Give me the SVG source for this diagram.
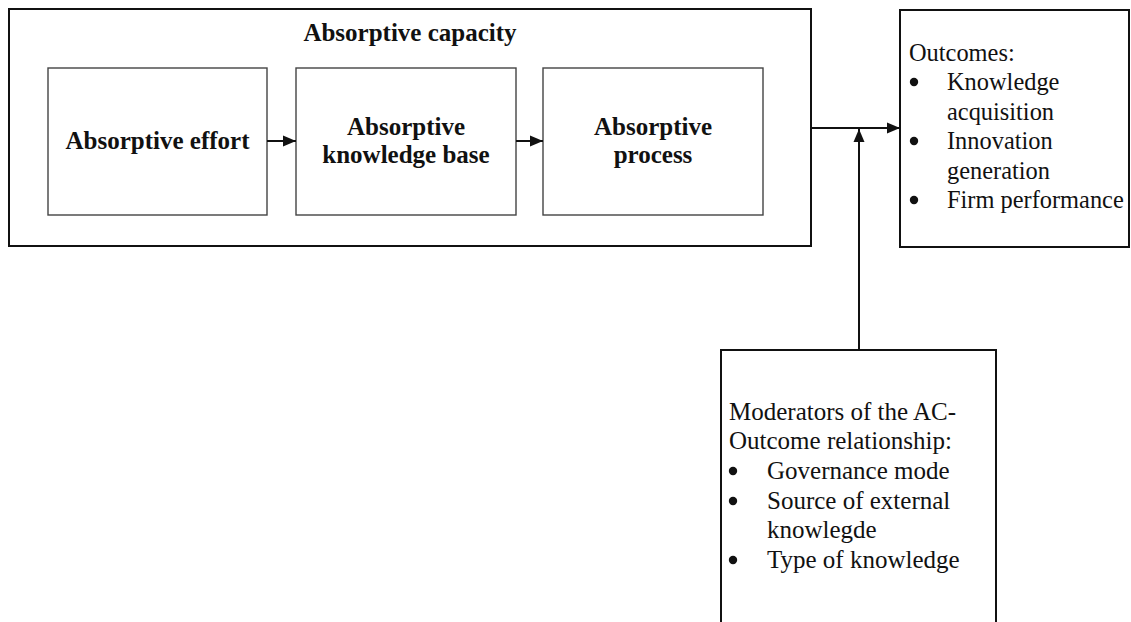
<svg xmlns="http://www.w3.org/2000/svg" width="1131" height="622" viewBox="0 0 1131 622">
<defs>
<style>
.bg{fill:#ffffff}
.outer{fill:none;stroke:#111;stroke-width:2}
.inner{fill:none;stroke:#444;stroke-width:1.4}
.b{font-family:"Liberation Serif","Times New Roman",serif;font-weight:bold;font-size:25px;fill:#111;text-anchor:middle}
.t{font-family:"Liberation Serif","Times New Roman",serif;font-size:25px;fill:#111}
.o{font-size:24.4px}
.dot{fill:#111}
.c{fill:none;stroke:#111;stroke-width:2}
</style>
<marker id="ah" markerUnits="userSpaceOnUse" markerWidth="14" markerHeight="12" refX="13" refY="6" orient="auto">
<path d="M0,0.5 L13,6 L0,11.5 Z" fill="#111"/>
</marker>
</defs>
<rect class="bg" x="0" y="0" width="1131" height="622"/>
<g id="absorptive-capacity">
<rect class="outer" x="9" y="9" width="802" height="237"/>
<text class="b" x="410" y="41">Absorptive capacity</text>
</g>
<g id="absorptive-effort">
<rect class="inner" x="48" y="68" width="219" height="147"/>
<text class="b" x="157.5" y="149">Absorptive effort</text>
</g>
<g id="absorptive-knowledge-base">
<rect class="inner" x="296" y="68" width="220" height="147"/>
<text class="b" x="406" y="135">Absorptive</text>
<text class="b" x="406" y="163">knowledge base</text>
</g>
<g id="absorptive-process">
<rect class="inner" x="543" y="68" width="220" height="147"/>
<text class="b" x="653" y="135">Absorptive</text>
<text class="b" x="653" y="163">process</text>
</g>
<g id="outcomes">
<rect class="outer" x="900" y="10" width="229" height="237"/>
<text class="t o" x="909" y="61">Outcomes:</text>
<circle class="dot" cx="914" cy="82" r="4.2"/>
<text class="t o" x="947" y="90">Knowledge</text>
<text class="t o" x="947" y="120">acquisition</text>
<circle class="dot" cx="914" cy="141" r="4.2"/>
<text class="t o" x="947" y="149">Innovation</text>
<text class="t o" x="947" y="179">generation</text>
<circle class="dot" cx="914" cy="200" r="4.2"/>
<text class="t o" x="947" y="208">Firm performance</text>
</g>
<g id="moderators">
<rect class="outer" x="721" y="350" width="275" height="300"/>
<text class="t" x="729" y="420">Moderators of the AC-</text>
<text class="t" x="729" y="449">Outcome relationship:</text>
<circle class="dot" cx="733" cy="471" r="4.2"/>
<text class="t" x="767" y="479">Governance mode</text>
<circle class="dot" cx="733" cy="501" r="4.2"/>
<text class="t" x="767" y="509">Source of external</text>
<text class="t" x="767" y="538">knowlegde</text>
<circle class="dot" cx="733" cy="560" r="4.2"/>
<text class="t" x="767" y="568">Type of knowledge</text>
</g>
<g id="connectors">
<line class="c" x1="267" y1="141" x2="296" y2="141" marker-end="url(#ah)"/>
<line class="c" x1="516" y1="141" x2="543" y2="141" marker-end="url(#ah)"/>
<line class="c" x1="811" y1="128" x2="900" y2="128" marker-end="url(#ah)"/>
<line class="c" x1="859" y1="350" x2="859" y2="129" marker-end="url(#ah)"/>
</g>
</svg>
